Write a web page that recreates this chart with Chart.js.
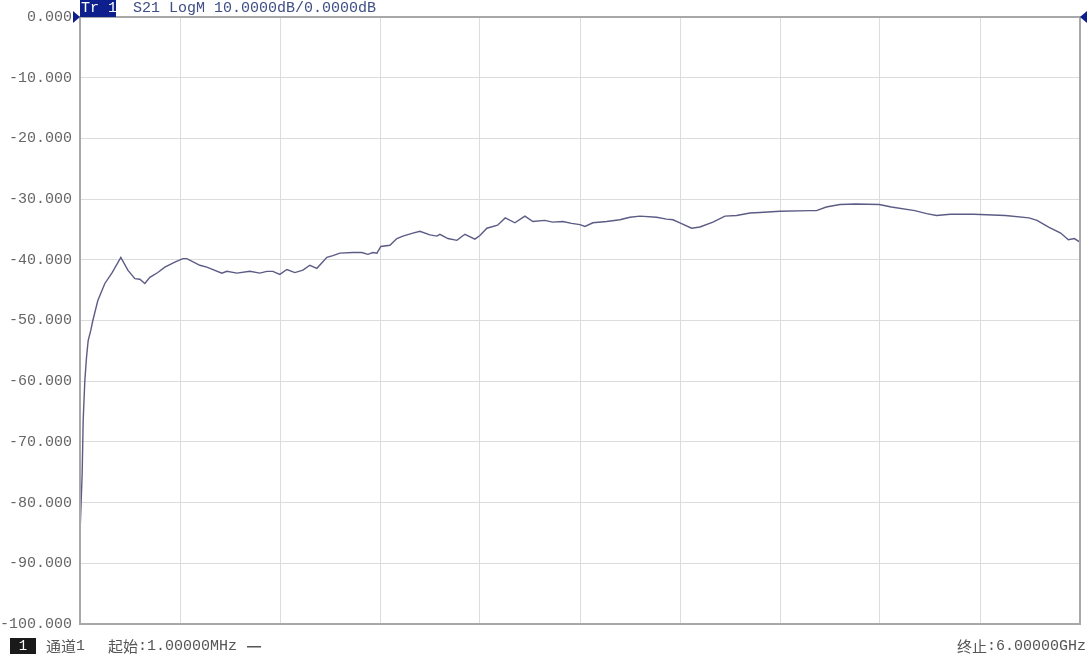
<!DOCTYPE html>
<html>
<head>
<meta charset="utf-8">
<script src="https://cdn.jsdelivr.net/npm/chart.js@4/dist/chart.umd.min.js"></script>
<style>
  html, body { margin: 0; padding: 0; background: #fff; }
  #wrap { width: 1090px; height: 654px; }
</style>
</head>
<body>
<div id="wrap"><canvas id="s21Chart"></canvas></div>
<script>
// sweep points (MHz, dB)
const freqMHz = [1, 14, 20, 30, 40, 50, 66, 78, 108, 150, 192, 246, 288, 330, 360, 390, 420, 468, 510, 570,
    618, 642, 720, 762, 852, 882, 942, 1020, 1080, 1122, 1158, 1200, 1242, 1290, 1338, 1380, 1422, 1482, 1518, 1560,
    1638, 1692, 1728, 1758, 1782, 1806, 1860, 1902, 1938, 1998, 2040, 2100, 2142, 2160, 2208, 2262, 2310, 2370, 2400, 2442,
    2506, 2552, 2610, 2670, 2718, 2789, 2836, 2898, 2950, 3000, 3030, 3078, 3160, 3240, 3300, 3360, 3460, 3520, 3558, 3600,
    3670, 3720, 3798, 3870, 3940, 4020, 4080, 4200, 4380, 4419, 4478, 4560, 4655, 4796, 4868, 5009, 5080, 5139, 5222, 5364,
    5552, 5694, 5742, 5812, 5884, 5930, 5966, 6000];
const s21dB = [-85.1, -75.2, -66.5, -59.9, -56.1, -53.3, -51.6, -50.0, -46.7, -43.9, -42.2, -39.6, -41.7, -43.1, -43.2, -43.9, -42.9, -42.1, -41.2, -40.4,
    -39.8, -39.8, -40.9, -41.2, -42.2, -41.9, -42.2, -41.9, -42.2, -41.9, -41.9, -42.4, -41.6, -42.1, -41.7, -40.9, -41.4, -39.6, -39.3, -38.9,
    -38.8, -38.8, -39.1, -38.8, -38.9, -37.8, -37.6, -36.5, -36.1, -35.6, -35.3, -35.9, -36.1, -35.8, -36.5, -36.8, -35.8, -36.6, -36.0, -34.8,
    -34.3, -33.1, -33.9, -32.8, -33.7, -33.5, -33.8, -33.7, -34.0, -34.2, -34.5, -33.9, -33.7, -33.4, -33.0, -32.8, -33.0, -33.3, -33.4, -33.9,
    -34.8, -34.6, -33.8, -32.8, -32.7, -32.3, -32.2, -32.0, -31.9, -31.9, -31.3, -30.9, -30.8, -30.9, -31.3, -31.9, -32.4, -32.7, -32.5, -32.5,
    -32.7, -33.1, -33.5, -34.6, -35.6, -36.7, -36.5, -37.1];

const startMHz = 1;
const stopMHz = 6000;
const refTop = 0;
const refBottom = -100;
const dbPerDiv = 10;

const traceLabel = 'Tr 1';
const headerText = 'S21 LogM 10.0000dB/0.0000dB';
const channelNo = '1';
const channelText = ['通道', '1'];
const startText = ['起始', ':1.00000MHz'];
const stopText = ['终止', ':6.00000GHz'];

const navy = '#0c1f8c';
const monoFont = '"Liberation Mono", "DejaVu Sans Mono", monospace';
const cjkFont = '"Noto Sans CJK SC", sans-serif';

// CJK part in the CJK font, the rest in half-width mono, like the instrument does
function drawMixed(c, parts, x, y) {
    c.font = '15px ' + cjkFont;
    c.fillText(parts[0], x, y);
    x += c.measureText(parts[0]).width;
    c.font = '15px ' + monoFont;
    c.fillText(parts[1], x, y);
    return x + c.measureText(parts[1]).width;
}

function mixedWidth(c, parts) {
    c.font = '15px ' + cjkFont;
    let w = c.measureText(parts[0]).width;
    c.font = '15px ' + monoFont;
    return w + c.measureText(parts[1]).width;
}

// frame, markers, header and footer text
const vnaDecor = {
    id: 'vnaDecor',
    afterDraw(chart) {
        const c = chart.ctx;
        const a = chart.chartArea;
        c.save();
        c.strokeStyle = '#a8a8a8';
        c.lineWidth = 2;
        c.strokeRect(a.left, a.top, a.right - a.left, a.bottom - a.top);

        // ref markers
        c.fillStyle = navy;
        c.beginPath();
        c.moveTo(a.left - 7, a.top - 6);
        c.lineTo(a.left, a.top);
        c.lineTo(a.left - 7, a.top + 6);
        c.fill();
        c.beginPath();
        c.moveTo(a.right + 7, a.top - 6);
        c.lineTo(a.right, a.top);
        c.lineTo(a.right + 7, a.top + 6);
        c.fill();

        // header
        c.fillStyle = navy;
        c.fillRect(a.left, 0, 36, a.top);
        c.font = '15px ' + monoFont;
        c.textBaseline = 'middle';
        c.textAlign = 'left';
        c.fillStyle = '#ffffff';
        c.fillText(traceLabel, a.left + 1, 8);
        c.fillStyle = '#3f4f86';
        c.fillText(headerText, a.left + 53, 8);

        // footer
        const fy = 646;
        c.fillStyle = '#1a1a1a';
        c.fillRect(10, 638, 26, 16);
        c.fillStyle = '#ffffff';
        c.font = '14px ' + monoFont;
        c.textAlign = 'center';
        c.fillText(channelNo, 23, fy);
        c.textAlign = 'left';
        c.fillStyle = '#555555';
        drawMixed(c, channelText, 46, fy);
        const endX = drawMixed(c, startText, 108, fy);
        c.fillRect(endX + 10, fy, 14, 1.5);
        drawMixed(c, stopText, 1086 - mixedWidth(c, stopText), fy);
        c.restore();
    }
};

const ctx = document.getElementById('s21Chart').getContext('2d');
const s21Chart = new Chart(ctx, {
    type: 'line',
    data: {
        datasets: [{
            label: 'S21',
            data: freqMHz.map((f, i) => ({ x: f, y: s21dB[i] })),
            borderColor: '#5b5b85',
            borderWidth: 1.4,
            pointRadius: 0,
            tension: 0,
            fill: false
        }]
    },
    options: {
        responsive: true,
        maintainAspectRatio: false,
        animation: false,
        layout: { padding: { top: 17, right: 10, bottom: 30, left: 0 } },
        plugins: {
            legend: { display: false },
            tooltip: { enabled: false }
        },
        scales: {
            x: {
                type: 'linear',
                min: startMHz,
                max: stopMHz,
                afterBuildTicks: axis => {
                    axis.ticks = [];
                    for (let i = 0; i <= 10; i++) {
                        axis.ticks.push({ value: startMHz + i * (stopMHz - startMHz) / 10 });
                    }
                },
                ticks: { display: false },
                grid: { color: '#dcdcdc', lineWidth: 1, drawTicks: false },
                border: { display: false }
            },
            y: {
                min: refBottom,
                max: refTop,
                afterFit: axis => { axis.width = 80; },
                ticks: {
                    stepSize: dbPerDiv,
                    padding: 8,
                    color: '#666666',
                    font: { family: monoFont, size: 15 },
                    callback: v => v.toFixed(3)
                },
                grid: { color: '#dcdcdc', lineWidth: 1, drawTicks: false },
                border: { display: false }
            }
        }
    },
    plugins: [vnaDecor]
});
</script>
</body>
</html>
